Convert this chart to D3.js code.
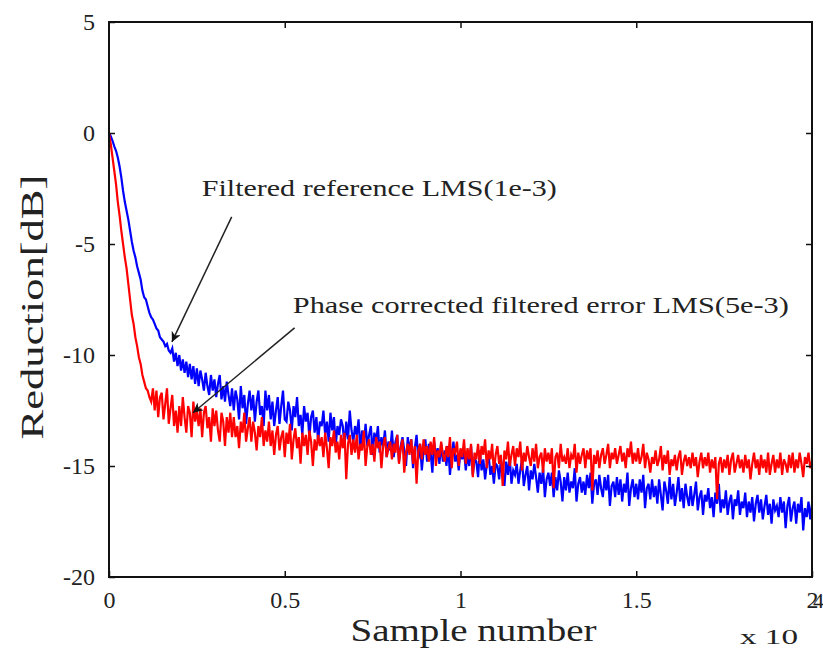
<!DOCTYPE html>
<meta charset="utf-8">
<head>
  <title>Reduction vs sample number</title>
  <script src="https://d3js.org/d3.v7.min.js"></script>
  <style>
    body { margin: 0; background: #fff; }
    svg text { font-family: "Liberation Serif", "Times New Roman", Times, serif; fill: #222; }
  </style>
</head>
<body>
<div id="display"></div>
<script>

// one value every 50 samples, x axis in units of 10^4
var step = 0.005;

var blueVals = [
  0, -0.15, -0.35, -0.6, -0.8, -1.1, -1.5, -2.0, -2.6, -3.1,
  -3.5, -3.9, -4.4, -4.9, -5.3, -5.6, -6.0, -6.3, -6.6, -7.1,
  -7.4, -7.5, -7.8, -8.1, -8.3, -8.4, -8.6, -8.8, -8.9, -9.2,
  -9.3, -9.4, -9.6, -9.5, -9.8, -9.9,
  -9.7, -10.3, -9.9, -10.5, -10.0, -10.7, -10.2, -10.8, -10.3, -11.0,
  -10.4, -11.1, -10.5, -11.3, -10.6, -11.4, -10.7, -11.1, -11.6, -10.8,
  -11.4, -11.8, -10.9, -11.6, -11.1, -11.9, -11.3, -10.9, -12.0, -11.4,
  -12.1, -11.2, -11.8, -12.3, -11.5,
  -12.5, -11.6, -12.0, -12.9, -11.4, -12.4, -11.8, -13.1, -12.2, -11.6,
  -12.5, -11.8, -13.0, -12.1, -11.6, -12.7, -12.3, -13.2, -11.6, -12.5,
  -11.8, -12.9, -12.1, -13.2, -12.5, -11.9, -13.1, -12.3, -11.6, -12.9,
  -13.0, -12.1, -12.5, -13.4, -12.3, -12.8, -11.9, -13.2, -12.7, -13.6,
  -12.3, -13.0, -12.6, -13.7, -12.8, -12.5, -13.5, -12.8, -13.9, -13.0,
  -13.2, -12.5, -13.6, -13.0, -13.9, -12.6, -13.4, -12.8, -14.1, -13.2,
  -13.6, -12.9, -13.2, -14.1, -13.0, -13.8, -12.5, -13.4, -13.9, -13.2,
  -13.6, -12.9, -14.3, -13.4, -14.0, -13.1, -14.1, -13.6, -13.2, -14.5,
  -13.5, -13.9, -13.2, -14.4, -13.7, -14.1, -13.4, -14.6, -13.9, -14.3,
  -13.4, -14.6, -13.9, -13.6, -14.8, -14.1, -13.7, -14.3, -15.0, -13.7,
  -14.3, -13.8, -15.1, -14.2, -13.6, -14.7, -14.0, -15.2, -14.3, -13.8,
  -14.8, -14.0, -14.4, -15.3, -13.9, -14.6, -14.2, -14.9, -14.0, -14.8,
  -14.3, -15.0, -14.1, -15.4, -14.5, -13.9, -14.8, -14.5, -15.2, -14.3,
  -14.7, -14.3, -15.2, -14.5, -15.0, -14.1, -15.4, -14.7, -14.8, -15.5,
  -14.3, -15.2, -14.7, -15.6, -14.9, -14.5, -15.4, -15.0, -15.8, -14.9,
  -15.0, -15.6, -14.7, -15.2, -15.9, -14.8, -15.4, -14.6, -15.8, -15.2,
  -15.4, -14.9, -15.8, -15.2, -14.7, -15.9, -15.4, -15.0, -16.1, -15.2,
  -15.6, -14.9, -15.5, -16.2, -15.3, -15.8, -15.1, -16.4, -15.6, -15.3,
  -15.9, -15.3, -16.4, -15.5, -16.1, -15.2, -15.7, -16.6, -15.5, -16.1,
  -15.3, -16.2, -15.7, -16.0, -15.1, -16.6, -15.8, -15.5, -16.2, -15.7,
  -16.3, -15.4, -16.0, -15.3, -16.7, -15.8, -15.6, -16.3, -15.4, -16.0,
  -16.4, -15.5, -16.1, -15.4, -16.8, -15.9, -15.7, -16.4, -15.5, -16.3,
  -15.6, -16.6, -15.8, -16.2, -15.3, -16.8, -16.0, -15.6, -16.4, -15.8,
  -16.5, -15.6, -16.2, -15.4, -16.9, -16.0, -15.8, -16.5, -15.6, -16.4,
  -15.9, -16.7, -15.6, -16.3, -17.0, -15.7, -16.1, -16.7, -15.5, -16.5,
  -15.8, -16.8, -16.2, -15.5, -16.6, -16.0, -16.9, -15.8, -16.4, -16.8,
  -15.9, -16.8, -16.3, -15.7, -17.0, -16.4, -16.1, -17.2, -16.3, -16.6,
  -16.0, -16.9, -16.4, -17.3, -16.2, -16.7, -15.8, -17.1, -16.5, -16.9,
  -16.1, -17.2, -16.6, -16.3, -17.4, -16.5, -16.8, -16.1, -17.2, -16.6,
  -16.9, -16.2, -17.3, -16.6, -17.1, -16.4, -17.5, -16.7, -16.3, -17.1,
  -16.5, -17.4, -16.8, -16.3, -17.2, -16.7, -17.6, -16.5, -17.0, -16.8,
  -17.3, -16.4, -17.1, -16.6, -17.8, -16.8, -16.4, -17.5, -16.9, -16.6,
  -17.6, -16.7, -17.1, -16.4, -17.9, -16.9, -17.3, -16.6, -17.4, -16.7
];

var redVals = [
  0, -0.5, -1.1, -1.7, -2.3, -3.1, -3.7, -4.4, -5.0, -5.6,
  -6.1, -6.8, -7.5, -8.2, -8.6, -9.2, -9.6, -10.1, -10.4, -10.9,
  -11.2, -11.5, -11.6, -11.9, -12.1,
  -11.5, -12.5, -11.6, -12.8, -11.9, -11.7, -12.9, -12.2, -11.5, -13.1,
  -12.4, -11.8, -13.2, -12.5, -13.5, -12.3,
  -13.2, -11.9, -12.8, -13.5, -12.3, -12.6, -13.7, -12.1, -13.0, -12.5,
  -13.2, -12.4, -13.7, -12.6, -12.3, -13.3, -12.8, -13.9, -12.4, -13.2,
  -12.5, -13.4, -13.9, -12.6, -13.0, -14.1, -12.8, -13.5, -12.6, -13.7,
  -12.8, -13.7, -13.2, -14.2, -13.0, -13.5, -12.6, -13.9, -13.3, -12.8,
  -13.9, -13.0, -13.5, -14.3, -13.2, -13.7, -12.8, -14.1, -13.4, -13.9,
  -13.0, -14.1, -13.4, -14.5, -13.6, -13.2, -14.3, -13.7, -13.4, -14.6,
  -13.5, -14.0, -13.1, -14.7, -13.8, -13.3, -14.2, -13.7, -14.9, -13.5,
  -14.1, -13.6, -14.5, -13.4, -13.9, -15.0, -13.8, -14.3, -13.6, -14.1,
  -13.7, -14.6, -13.5, -14.2, -15.1, -13.7, -14.1, -13.4, -14.4, -13.9,
  -14.7, -13.6, -14.2, -13.5, -15.6, -14.0, -13.6, -14.5, -13.8, -14.4,
  -13.6, -14.7, -14.0, -14.3, -13.4, -15.0, -14.1, -13.8, -14.5, -14.0,
  -14.8, -13.7, -14.2, -13.9, -15.1, -14.1, -13.7, -14.6, -14.2, -13.9,
  -14.7, -14.0, -14.4, -13.6, -14.9, -14.2, -13.8, -15.3, -14.4, -14.0,
  -14.5, -13.8, -14.9, -14.1, -15.8, -14.3, -14.0, -14.7, -13.8, -14.5,
  -14.1, -14.8, -13.9, -14.5, -13.7, -15.0, -14.3, -14.6, -13.9, -14.5,
  -14.8, -14.1, -14.6, -13.7, -15.1, -14.2, -14.4, -13.9, -15.0, -14.2,
  -14.6, -13.8, -14.9, -14.2, -14.7, -14.0, -15.5, -14.4, -14.7, -14.0,
  -14.9, -14.1, -14.5, -13.8, -15.1, -14.3, -14.7, -14.0, -15.3, -14.5,
  -14.1, -14.9, -14.5, -15.9, -14.3, -14.7, -13.9, -15.0, -14.5, -14.1,
  -15.0, -14.2, -14.6, -13.9, -15.2, -14.4, -14.8, -14.1, -14.6, -15.0,
  -14.2, -14.8, -14.0, -15.1, -14.6, -14.4, -15.3, -14.2, -14.8, -14.4,
  -14.9, -14.2, -16.0, -14.6, -14.4, -15.1, -14.0, -14.8, -14.6, -14.9,
  -14.2, -15.1, -14.5, -14.7, -14.0, -15.3, -14.4, -14.9, -14.5, -14.2,
  -15.1, -14.3, -14.7, -14.2, -16.1, -14.5, -14.9, -14.3, -15.1, -14.5,
  -14.2, -14.9, -14.5, -14.0, -15.1, -14.4, -14.7, -14.2, -14.9, -14.5,
  -14.1, -14.8, -14.4, -15.1, -14.2, -14.6, -13.9, -14.9, -14.4, -14.8,
  -14.2, -14.9, -14.6, -14.0, -15.1, -14.4, -14.7, -15.3, -14.6, -14.9,
  -14.3, -15.0, -14.7, -14.1, -15.2, -14.5, -14.9, -14.3, -15.4, -14.7,
  -15.0, -14.5, -15.2, -14.6, -14.3, -15.4, -14.8, -14.5, -15.0, -14.6,
  -15.1, -14.4, -15.0, -14.6, -15.5, -14.8, -14.4, -15.1, -14.6, -15.0,
  -14.4, -15.3, -14.7, -15.1, -14.6, -16.5, -14.9, -14.6, -15.3, -14.7,
  -15.1, -14.5, -15.4, -14.7, -14.4, -15.3, -14.9, -14.5, -15.1, -14.7,
  -15.3, -14.5, -15.1, -14.7, -15.6, -14.9, -14.4, -15.1, -14.7, -15.4,
  -14.5, -15.1, -14.7, -15.3, -14.4, -15.4, -14.9, -14.5, -15.3, -14.7,
  -15.1, -14.4, -15.4, -14.7, -14.9, -15.3, -14.5, -15.1, -14.4, -15.3,
  -14.7, -15.1, -14.4, -14.9, -15.5, -14.6, -14.9, -14.4, -15.1, -14.8
];

var xTicks = [0, 0.5, 1, 1.5, 2];
var xTickLabels = ["0", "0.5", "1", "1.5", "2"];
var yTicks = [5, 0, -5, -10, -15, -20];
var yTickLabels = ["5", "0", "-5", "-10", "-15", "-20"];

// annotation text + arrow (in data units)
var notes = [
  { text: "Filtered reference LMS(1e-3)", tx: 0.264, ty: -2.84, len: 355,
    from: [0.349, -3.78], to: [0.179, -9.41] },
  { text: "Phase corrected filtered error LMS(5e-3)", tx: 0.523, ty: -8.1, len: 496,
    from: [0.528, -8.78], to: [0.239, -12.6] }
];

var margin = {top: 22, right: 11, bottom: 75, left: 109},
    width = 823 - margin.left - margin.right,
    height = 652 - margin.top - margin.bottom;

var svg = d3.select("#display")
  .append("svg")
    .attr("width", 823)
    .attr("height", 652)
    .attr("font-family", "'Liberation Serif', 'Times New Roman', Times, serif")
  .append("g")
    .attr("transform", "translate(" + margin.left + "," + margin.top + ")");

var x = d3.scaleLinear().domain([0, 2]).range([0, width]);
var y = d3.scaleLinear().domain([-20, 5]).range([height, 0]);

var line = d3.line()
  .x(function(d, i) { return x(i * step); })
  .y(function(d) { return y(d); });

svg.append("path")
  .datum(blueVals)
  .attr("fill", "none")
  .attr("stroke", "#0000ff")
  .attr("stroke-width", 2.2)
  .attr("d", line);

svg.append("path")
  .datum(redVals)
  .attr("fill", "none")
  .attr("stroke", "#ff0000")
  .attr("stroke-width", 2.2)
  .attr("d", line);

// frame with inward ticks on all sides
svg.append("rect")
  .attr("width", width).attr("height", height)
  .attr("fill", "none").attr("stroke", "#111").attr("stroke-width", 2);

var tickLen = 6;
function styleAxis(g) {
  g.attr("font-family", null);
  g.select(".domain").remove();
  g.selectAll(".tick line").attr("stroke", "#111").attr("stroke-width", 1.5);
  g.selectAll(".tick text").style("font-size", "24px").attr("fill", "#222");
}

svg.append("g")
  .attr("transform", "translate(0," + height + ")")
  .call(d3.axisBottom(x).tickValues(xTicks)
    .tickFormat(function(d, i) { return xTickLabels[i]; })
    .tickSizeInner(-tickLen).tickPadding(14))
  .call(styleAxis);

svg.append("g")
  .call(d3.axisTop(x).tickValues(xTicks.slice(1, -1)).tickSizeInner(-tickLen).tickFormat(""))
  .call(styleAxis);

svg.append("g")
  .call(d3.axisLeft(y).tickValues(yTicks)
    .tickFormat(function(d, i) { return yTickLabels[i]; })
    .tickSizeInner(-tickLen).tickPadding(14))
  .call(styleAxis);

svg.append("g")
  .attr("transform", "translate(" + width + ",0)")
  .call(d3.axisRight(y).tickValues(yTicks.slice(1, -1)).tickSizeInner(-tickLen).tickFormat(""))
  .call(styleAxis);

// axis titles
svg.append("text")
  .attr("x", x(1) - 110)
  .attr("y", height + 64)
  .attr("textLength", 246)
  .attr("lengthAdjust", "spacingAndGlyphs")
  .style("font-size", "31px")
  .text("Sample number");

svg.append("text")
  .attr("x", x(2) - 72)
  .attr("y", height + 67)
  .attr("textLength", 58)
  .attr("lengthAdjust", "spacingAndGlyphs")
  .style("font-size", "22px")
  .text("x 10");

svg.append("text")
  .attr("x", x(2) + 1)
  .attr("y", height + 31)
  .style("font-size", "22px")
  .text("4");

svg.append("text")
  .attr("transform", "translate(" + (-66) + "," + y(-7.84) + ") rotate(-90)")
  .attr("text-anchor", "middle")
  .attr("textLength", 265)
  .attr("lengthAdjust", "spacingAndGlyphs")
  .style("font-size", "31px")
  .text("Reduction[dB]");

// arrowhead
svg.append("defs").append("marker")
  .attr("id", "head")
  .attr("viewBox", "0 0 10 10")
  .attr("refX", 10).attr("refY", 5)
  .attr("markerWidth", 14).attr("markerHeight", 10)
  .attr("markerUnits", "userSpaceOnUse")
  .attr("orient", "auto")
  .append("path")
  .attr("d", "M0,0 L10,5 L0,10 L3,5 Z")
  .attr("fill", "#111");

var ann = svg.selectAll(".note").data(notes).enter().append("g").attr("class", "note");

ann.append("text")
  .attr("x", function(d) { return x(d.tx); })
  .attr("y", function(d) { return y(d.ty); })
  .attr("textLength", function(d) { return d.len; })
  .attr("lengthAdjust", "spacingAndGlyphs")
  .style("font-size", "23px")
  .text(function(d) { return d.text; });

ann.append("line")
  .attr("x1", function(d) { return x(d.from[0]); })
  .attr("y1", function(d) { return y(d.from[1]); })
  .attr("x2", function(d) { return x(d.to[0]); })
  .attr("y2", function(d) { return y(d.to[1]); })
  .attr("stroke", "#222")
  .attr("stroke-width", 1.5)
  .attr("marker-end", "url(#head)");

</script>
</body>
